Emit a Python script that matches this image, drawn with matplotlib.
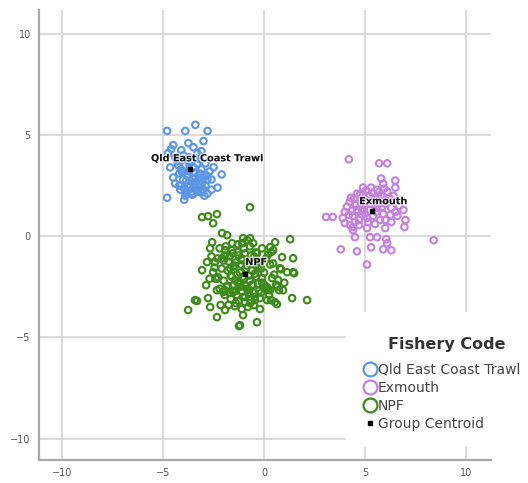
import matplotlib.pyplot as plt
import matplotlib.patheffects as pe
from matplotlib.lines import Line2D
from matplotlib.patches import Rectangle

# group colours
blue = '#5b95e6'
purple = '#c47fdf'
green = '#3c8a1a'

# discriminant scores: (function 1, function 2)
qld_x = [-4.8, -3.9, -3.4, -2.8, -3.0, -4.5, -4.6, -4.1, -3.3, -4.75, -2.1, -2.3, -4.8, -3.95,
         -3.5, -2.8, -4.65, -4.4, -4.15, -4.0, -3.7, -3.2, -2.9, -4.3, -3.9, -3.5, -3.1, -2.7,
         -4.2, -3.8, -3.4, -3.0, -2.6, -4.0, -3.6, -3.2, -2.9, -3.8, -3.4, -3.0, -3.6, -3.3,
         -4.1, -3.3, -3.7, -2.5, -4.4, -3.5, -3.1, -2.6, -3.9, -4.5, -3.6, -2.8, -3.2, -3.85,
         -3.45, -3.15, -2.95, -4.25, -3.75,
         -3.95, -3.65, -3.35, -3.05, -4.05, -3.75, -3.45, -3.15, -3.9, -3.55, -3.25, -3.7,
         -3.4, -4.2, -2.85, -3.5, -3.8, -3.1]
qld_y = [5.2, 5.2, 5.5, 5.2, 4.7, 4.5, 4.3, 4.25, 4.1, 4.1, 3.05, 2.4, 1.9, 1.8,
         2.1, 2.1, 3.4, 2.6, 2.3, 4.0, 3.9, 3.8, 3.6, 3.7, 3.5, 3.4, 3.3, 3.2,
         3.1, 3.0, 2.9, 2.9, 2.8, 2.8, 2.7, 2.6, 2.5, 2.5, 2.4, 2.3, 2.2, 2.2,
         3.3, 3.6, 3.2, 3.4, 3.9, 4.4, 4.2, 2.3, 2.0, 2.9, 3.7, 2.8, 3.1, 2.75,
         2.55, 2.45, 2.0, 3.5, 4.6,
         2.35, 2.45, 2.3, 2.65, 3.15, 3.05, 3.15, 2.75, 2.15, 2.05, 2.9, 3.55,
         3.85, 2.5, 3.0, 2.85, 2.2, 2.15]

exm_x = [4.2, 5.7, 6.1, 5.8, 6.5, 5.9, 6.5, 4.6, 4.9, 5.6, 6.1, 4.25, 4.1, 6.7, 6.9, 6.5,
         3.07, 3.4, 3.9, 4.0, 4.25, 4.4, 5.15, 5.75, 6.0, 6.3, 7.0, 6.95, 5.1, 6.0, 4.5,
         5.25, 5.6, 6.05, 8.4, 3.8, 4.6, 5.3, 5.9, 6.3, 5.1, 6.1, 4.8, 5.0, 5.2, 5.5, 5.8,
         6.0, 4.6, 4.4, 4.7, 5.0, 5.6, 6.2, 5.3, 4.9, 5.4, 5.9, 6.3, 4.3, 5.1, 6.4, 4.5,
         5.7, 4.0, 6.6, 5.45, 4.85,
         4.45, 4.75, 5.05, 5.35, 5.65, 5.95, 4.55, 4.85, 5.15, 5.45, 5.75, 6.05, 4.35,
         4.65, 4.95, 5.25, 5.55, 5.85, 4.2, 4.5, 4.4, 4.7, 6.25, 5.5]
exm_y = [3.8, 3.6, 3.6, 2.85, 2.75, 2.6, 2.4, 2.1, 2.1, 2.3, 2.2, 1.7, 1.45, 1.5, 1.3, 1.2,
         0.95, 0.95, 0.9, 0.65, 0.55, 0.45, 0.7, 0.8, 0.8, 0.7, 0.8, 0.45, 0.4, 0.4, -0.05,
         -0.05, -0.05, -0.15, -0.2, -0.65, -0.75, -0.55, -0.65, -0.7, -1.4, -0.35, 1.8, 1.5, 2.0, 1.7, 2.0,
         1.6, 1.3, 1.0, 0.8, 1.1, 1.4, 1.9, 2.4, 2.4, 1.0, 1.1, 1.4, 1.9, 0.9, 2.0, 1.6,
         2.2, 1.2, 1.0, 1.55, 1.25,
         1.85, 2.05, 2.25, 2.15, 1.95, 2.35, 1.55, 1.65, 1.75, 1.85, 1.65, 1.75, 1.25,
         1.2, 1.3, 1.6, 1.2, 1.45, 1.05, 0.7, 0.3, 0.55, 1.05, 0.6]

npf_x = [-3.07, -2.77, -2.33, -2.52, -0.7, -2.08, -1.83, -2.57, -2.67, -2.82, -3.07, -2.87,
         -3.42, -3.76, -2.77, -2.67, -2.33, -1.93, -1.44, -1.04, -1.19, -0.94, -2.33, -1.93,
         -1.53, -2.28, -1.68, -1.44, -1.09, -1.09, -1.29, -1.58, -2.08, -2.43, -2.52, -1.93,
         -0.84, -3.32, -1.24, -0.35, 1.29, 0.89, 1.44, 0.45, 0.3, 0.79, 1.14, 1.44, 0.94,
         1.39, 2.13, 0.74, 0.54, 0.15, -0.2, -0.45, -0.69, -0.54, 0.3, -0.1, 0.4, 0.7,
         -0.69, -1.04, 0.35, 0.84, 1.49, 0.15, 0.64, 0.35,
         -2.2, -1.9, -1.6, -1.3, -1.0, -0.7, -0.4, -0.1, 0.2,
         -2.3, -2.0, -1.7, -1.4, -1.1, -0.8, -0.5, -0.2, 0.1,
         -2.1, -1.8, -1.5, -1.2, -0.9, -0.6, -0.3, 0.0, 0.3,
         -2.4, -2.0, -1.6, -1.3, -1.0, -0.7, -0.4, -0.1, 0.5,
         -2.2, -1.85, -1.5, -1.15, -0.85, -0.55, -0.25, 0.05,
         -1.95, -1.65, -1.35, -1.05, -0.75, -0.45, -0.15, 0.25,
         -1.75, -1.4, -1.1, -0.8, -0.5, -0.2, 0.6, -2.6, -2.35, 1.0, 0.55,
         -1.55, -1.25, -0.95, -0.65, -0.35, -1.45, -1.15, -0.85, -0.55, -0.25,
         -1.65, -1.35, -1.05, -0.75, -0.45, -1.8, -1.5, -1.2, -0.9, -0.6, -0.3,
         -2.0, -1.7, -1.4, -1.1, -0.8, -0.5, -1.25, -0.95, -0.65, -1.75, -2.45,
         0.0, -0.15, 0.2, -1.95, -2.15, 0.45, 0.65, -2.7]
npf_y = [0.94, 0.99, 1.09, 0.64, 1.43, 0.15, 0.05, -0.3, -0.6, -1.28, -1.68, -2.42,
         -3.16, -3.65, -3.06, -3.5, -4.0, -3.65, -3.46, -3.9, -4.4, -3.0, -2.67, -2.67,
         -2.77, -2.02, -1.58, -2.17, -1.19, -0.35, -0.79, -0.35, -1.09, -1.28, -1.78, -0.69,
         -0.2, -3.2, -4.44, -4.25, -0.15, -1.04, -1.09, -0.69, -0.54, -1.58, -1.78, -1.78, -2.67,
         -3.06, -3.16, -2.67, -3.26, -3.16, -3.06, -3.16, -3.31, -0.35, -2.67, -2.07, -2.07, -2.17,
         -0.1, -0.1, -0.79, -1.63, -1.83, -2.52, -3.36, -3.16,
         -0.6, -0.5, -0.7, -0.4, -0.6, -0.5, -0.8, -0.6, -0.9,
         -1.1, -1.2, -1.0, -1.3, -1.1, -1.2, -1.0, -1.3, -1.1,
         -1.6, -1.7, -1.5, -1.8, -1.6, -1.7, -1.5, -1.8, -1.4,
         -2.1, -2.2, -2.0, -2.3, -2.1, -2.2, -2.0, -2.3, -1.9,
         -2.6, -2.5, -2.7, -2.5, -2.6, -2.4, -2.7, -2.5,
         -2.9, -3.1, -2.9, -3.0, -2.8, -3.0, -2.8, -2.9,
         -3.4, -3.3, -3.6, -3.5, -3.4, -3.6, -2.4, -1.0, -2.1, -2.3, -0.3,
         -0.85, -0.95, -0.85, -0.95, -0.85, -1.45, -1.4, -1.45, -1.35, -1.45,
         -1.95, -1.9, -2.0, -1.95, -1.85, -2.45, -2.4, -2.35, -2.45, -2.4, -2.35,
         -2.75, -2.8, -2.7, -2.75, -2.65, -2.8, -3.2, -3.25, -3.15, -1.25, -1.55,
         -2.4, -1.6, -2.65, -0.95, -3.4, -1.35, -2.5, -2.1]

centroid_names = ['Qld East Coast Trawl', 'Exmouth', 'NPF']
centroid_x = [-3.66, 5.35, -0.94]
centroid_y = [3.3, 1.25, -1.88]

fig = plt.figure(figsize=(5.28, 4.83), dpi=100)
ax = fig.add_axes([0.074, 0.0476, 0.856, 0.931])

ax.set_xlim(-11.14, 11.24)
ax.set_ylim(-11.06, 11.16)
ax.set_xticks([-10, -5, 0, 5, 10])
ax.set_yticks([-10, -5, 0, 5, 10])
ax.set_axisbelow(True)
ax.grid(True, color='#d4d4d4', linewidth=1.2)
for s in ['top', 'right']:
    ax.spines[s].set_visible(False)
for s in ['left', 'bottom']:
    ax.spines[s].set_color('#a8a8a8')
    ax.spines[s].set_linewidth(1.6)
ax.tick_params(length=0, labelsize=7, labelcolor='#555555', pad=6)

# white area under the legend hides the grid
ax.add_patch(Rectangle((0.655, 0.075), 0.36, 0.28, transform=fig.transFigure,
                       facecolor='white', edgecolor='none', zorder=1, clip_on=False))

kw = dict(s=22, facecolors='none', linewidths=1.5, zorder=3)
ax.scatter(qld_x, qld_y, edgecolors=blue, **kw)
ax.scatter(exm_x, exm_y, edgecolors=purple, **kw)
ax.scatter(npf_x, npf_y, edgecolors=green, **kw)

ax.scatter(centroid_x, centroid_y, marker='s', s=9, color='black', zorder=5)
offsets = [(0.85, 0.55), (0.55, 0.48), (0.55, 0.6)]
halo = [pe.withStroke(linewidth=2, foreground='white', alpha=0.7)]
for name, cx, cy, (dx, dy) in zip(centroid_names, centroid_x, centroid_y, offsets):
    ax.annotate(name, (cx, cy), xytext=(cx + dx, cy + dy), ha='center', va='center',
                fontsize=7, fontweight='bold', color='#111111', zorder=6, path_effects=halo,
                arrowprops=dict(arrowstyle='-', color='black', lw=1.0, shrinkA=4, shrinkB=0))

# legend title drawn on its own so its gap to the entries can be set
fig.text(0.847, 0.286, 'Fishery Code', ha='center', va='center', fontsize=11.5,
         fontweight='bold', color='#333333')

handles = [
    Line2D([], [], ls='none', marker='o', ms=10, mfc='none', mec=blue, mew=1.6),
    Line2D([], [], ls='none', marker='o', ms=10, mfc='none', mec=purple, mew=1.6),
    Line2D([], [], ls='none', marker='o', ms=10, mfc='none', mec=green, mew=1.6),
    Line2D([], [], ls='none', marker='s', ms=3, color='black'),
]
leg = fig.legend(handles, centroid_names + ['Group Centroid'], loc='upper left',
                 bbox_to_anchor=(0.69, 0.249), frameon=False, fontsize=10,
                 handlelength=0.8, handletextpad=0.15,
                 labelspacing=0.3, borderpad=0, borderaxespad=0)
for t in leg.get_texts():
    t.set_color('#444444')

fig.savefig('out.png', dpi=100)
